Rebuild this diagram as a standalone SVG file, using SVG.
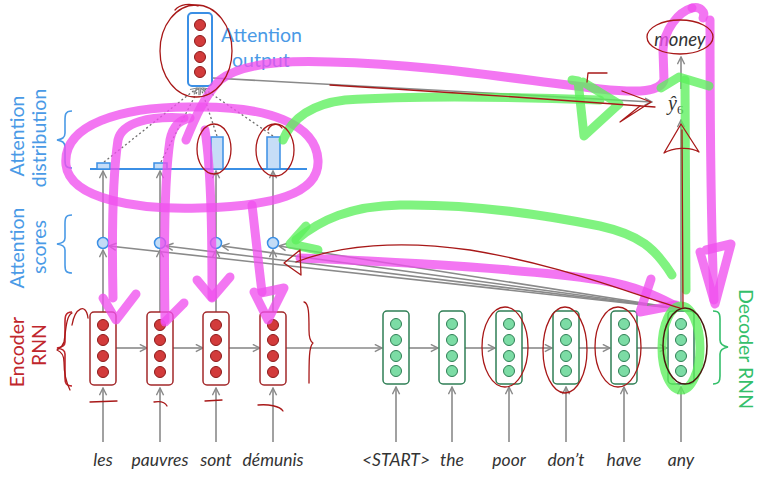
<svg xmlns="http://www.w3.org/2000/svg" width="765" height="484" viewBox="0 0 765 484">
<style>
.bg{fill:#ffffff}
.encbox{fill:#fff;stroke:#a3282a;stroke-width:1.5}
.enc{fill:#d23b3b;stroke:#8c1a1a;stroke-width:1}
.decbox{fill:#fff;stroke:#2f7f55;stroke-width:1.5}
.dec{fill:#7cdca5;stroke:#2f7f55;stroke-width:1}
.outbox{fill:#fff;stroke:#3b8fe5;stroke-width:2}
.score{fill:#c3dcf6;stroke:#3b8fe5;stroke-width:1.5}
.bar{fill:#c6ddf7;stroke:#3b8fe5;stroke-width:1.5}
.conn{fill:none;stroke:#8a8a8a;stroke-width:1.6;marker-end:url(#ah)}
.dot{fill:none;stroke:#6f6f6f;stroke-width:1.3;stroke-dasharray:2 2.5;marker-end:url(#ahs)}
.word{font-family:Lato,"Liberation Sans",sans-serif;font-style:italic;font-size:17.5px;fill:#333;text-anchor:middle}
.lblue{font-family:Lato,"Liberation Sans",sans-serif;font-size:19.5px;fill:#4a9ae6;text-anchor:middle}
.lred{font-family:Lato,"Liberation Sans",sans-serif;font-size:19.5px;fill:#c0262c;text-anchor:middle}
.lgreen{font-family:Lato,"Liberation Sans",sans-serif;font-size:19.5px;fill:#35bf6b;text-anchor:middle}
.brace{fill:none;stroke-width:1.6}
.mag{fill:none;stroke:#f050ee;stroke-opacity:0.78;stroke-width:9;stroke-linecap:round;stroke-linejoin:round}
.grn{fill:none;stroke:#5cf05c;stroke-opacity:0.78;stroke-width:9;stroke-linecap:round;stroke-linejoin:round}
.red{fill:none;stroke:#a81818;stroke-width:1.3;stroke-linecap:round;stroke-linejoin:round}
.dark{fill:none;stroke:#4a1a10;stroke-width:1.5}
</style>
<defs>
<marker id="ah" viewBox="0 0 10 10" refX="9" refY="5" markerWidth="9" markerHeight="9" orient="auto" markerUnits="userSpaceOnUse">
<path d="M1,1 L9,5 L1,9" fill="none" stroke="#8a8a8a" stroke-width="1.6"/>
</marker>
<marker id="ahs" viewBox="0 0 10 10" refX="9" refY="5" markerWidth="8" markerHeight="8" orient="auto" markerUnits="userSpaceOnUse">
<path d="M1,1 L9,5 L1,9" fill="none" stroke="#8a8a8a" stroke-width="1.5"/>
</marker>
</defs>
<rect class="bg" x="0" y="0" width="765" height="484"/>

<g id="labels">
<text class="lblue" transform="translate(24,136) rotate(-90)">Attention</text>
<text class="lblue" transform="translate(46,138) rotate(-90)">distribution</text>
<text class="lblue" transform="translate(24,248) rotate(-90)">Attention</text>
<text class="lblue" transform="translate(46,247) rotate(-90)">scores</text>
<text class="lred" transform="translate(24,352) rotate(-90)">Encoder</text>
<text class="lred" transform="translate(46,345) rotate(-90)">RNN</text>
<text class="lgreen" transform="translate(739,349) rotate(90)">Decoder RNN</text>
<path class="brace" stroke="#4a9ae6" d="M72,111 C64,111 65,116 65,125 L65,133 C65,138 62,139 57,140 C62,141 65,142 65,147 L65,160 C65,166 66,168 72,168"/>
<path class="brace" stroke="#4a9ae6" d="M72,215 C64,215 65,220 65,228 L65,238 C65,242 62,243 57,244 C62,245 65,246 65,250 L65,265 C65,271 66,273 72,273"/>
<path class="brace" stroke="#c0262c" d="M72,312 C64,312 65,318 65,328 L65,342 C65,346 62,347 57,348 C62,349 65,350 65,354 L65,378 C65,383 66,386 72,386"/>
<path class="brace" stroke="#35bf6b" d="M713,311 C721,311 720,316 720,324 L720,340 C720,344 723,346 728,347 C723,348 720,350 720,354 L720,376 C720,381 719,384 713,384"/>
</g>

<g id="connectors">
<line class="conn" x1="103" y1="442" x2="103" y2="388"/>
<line class="conn" x1="160" y1="442" x2="160" y2="388"/>
<line class="conn" x1="216" y1="442" x2="216" y2="388"/>
<line class="conn" x1="273" y1="442" x2="273" y2="388"/>
<line class="conn" x1="396" y1="442" x2="396" y2="387"/>
<line class="conn" x1="452" y1="442" x2="452" y2="387"/>
<line class="conn" x1="509" y1="442" x2="509" y2="387"/>
<line class="conn" x1="566" y1="442" x2="566" y2="387"/>
<line class="conn" x1="624" y1="442" x2="624" y2="387"/>
<line class="conn" x1="681" y1="442" x2="681" y2="387"/>
<line class="conn" x1="116" y1="348" x2="147" y2="348"/>
<line class="conn" x1="173" y1="348" x2="203" y2="348"/>
<line class="conn" x1="229" y1="348" x2="260" y2="348"/>
<line class="conn" x1="286" y1="348" x2="382" y2="348"/>
<line class="conn" x1="409" y1="348" x2="438" y2="348"/>
<line class="conn" x1="465" y1="348" x2="495" y2="348"/>
<line class="conn" x1="522" y1="348" x2="552" y2="348"/>
<line class="conn" x1="579" y1="348" x2="610" y2="348"/>
<line class="conn" x1="637" y1="348" x2="667" y2="348"/>
<line class="conn" x1="103" y1="312" x2="103" y2="250"/>
<line class="conn" x1="160" y1="312" x2="160" y2="250"/>
<line class="conn" x1="216" y1="312" x2="216" y2="250"/>
<line class="conn" x1="273" y1="312" x2="273" y2="250"/>
<line class="conn" x1="103" y1="238" x2="103" y2="171"/>
<line class="conn" x1="160" y1="238" x2="160" y2="171"/>
<line class="conn" x1="216" y1="238" x2="216" y2="171"/>
<line class="conn" x1="273" y1="238" x2="273" y2="171"/>
<line class="conn" x1="681" y1="309" x2="109" y2="246"/>
<line class="conn" x1="681" y1="309" x2="166" y2="246"/>
<line class="conn" x1="681" y1="309" x2="222" y2="246"/>
<line class="conn" x1="681" y1="309" x2="279" y2="246"/>
<line class="dot" x1="104" y1="162" x2="197" y2="88"/>
<line class="dot" x1="161" y1="162" x2="199" y2="88"/>
<line class="dot" x1="217" y1="136" x2="201" y2="88"/>
<line class="dot" x1="273" y1="136" x2="203" y2="88"/>
<line class="conn" x1="213" y1="78" x2="652" y2="102"/>
<line class="conn" x1="681" y1="309" x2="681" y2="120"/>
<line class="conn" x1="681" y1="89" x2="681" y2="57"/>
</g>

<g id="attention-distribution">
<line x1="90" y1="169" x2="307" y2="169" stroke="#3b8fe5" stroke-width="2"/>
<rect class="bar" x="97" y="163" width="13" height="6"/>
<rect class="bar" x="154" y="163" width="13" height="6"/>
<rect class="bar" x="211" y="137" width="12" height="32"/>
<rect class="bar" x="267" y="137" width="13" height="32"/>
</g>

<g id="attention-scores">
<circle class="score" cx="103" cy="243" r="5.5"/>
<circle class="score" cx="160" cy="243" r="5.5"/>
<circle class="score" cx="216" cy="243" r="5.5"/>
<circle class="score" cx="273" cy="243" r="5.5"/>
</g>

<g id="attention-output">
<rect class="outbox" x="188" y="13" width="24" height="73" rx="4"/>
<circle class="enc" cx="200" cy="25" r="5.5"/>
<circle class="enc" cx="200" cy="41" r="5.5"/>
<circle class="enc" cx="200" cy="57" r="5.5"/>
<circle class="enc" cx="200" cy="72" r="5.5"/>
<text class="lblue" style="text-anchor:start" x="221" y="42">Attention</text>
<text class="lblue" style="text-anchor:start" x="232" y="67">output</text>
</g>

<g id="enc-les">
<rect class="encbox" x="90" y="312" width="26" height="73" rx="4"/>
<circle class="enc" cx="103" cy="325" r="5.5"/><circle class="enc" cx="103" cy="340" r="5.5"/><circle class="enc" cx="103" cy="356" r="5.5"/><circle class="enc" cx="103" cy="372" r="5.5"/>
<text class="word" x="103" y="466">les</text>
</g>
<g id="enc-pauvres">
<rect class="encbox" x="147" y="312" width="26" height="73" rx="4"/>
<circle class="enc" cx="160" cy="325" r="5.5"/><circle class="enc" cx="160" cy="340" r="5.5"/><circle class="enc" cx="160" cy="356" r="5.5"/><circle class="enc" cx="160" cy="372" r="5.5"/>
<text class="word" x="160" y="466">pauvres</text>
</g>
<g id="enc-sont">
<rect class="encbox" x="203" y="312" width="26" height="73" rx="4"/>
<circle class="enc" cx="216" cy="325" r="5.5"/><circle class="enc" cx="216" cy="340" r="5.5"/><circle class="enc" cx="216" cy="356" r="5.5"/><circle class="enc" cx="216" cy="372" r="5.5"/>
<text class="word" x="216" y="466">sont</text>
</g>
<g id="enc-demunis">
<rect class="encbox" x="260" y="312" width="26" height="73" rx="4"/>
<circle class="enc" cx="273" cy="325" r="5.5"/><circle class="enc" cx="273" cy="340" r="5.5"/><circle class="enc" cx="273" cy="356" r="5.5"/><circle class="enc" cx="273" cy="372" r="5.5"/>
<text class="word" x="273" y="466">démunis</text>
</g>

<g id="dec-start">
<rect class="decbox" x="383" y="311" width="26" height="73" rx="4"/>
<circle class="dec" cx="396" cy="324" r="5.5"/><circle class="dec" cx="396" cy="340" r="5.5"/><circle class="dec" cx="396" cy="356" r="5.5"/><circle class="dec" cx="396" cy="371" r="5.5"/>
<text class="word" x="396" y="466">&lt;START&gt;</text>
</g>
<g id="dec-the">
<rect class="decbox" x="439" y="311" width="26" height="73" rx="4"/>
<circle class="dec" cx="452" cy="324" r="5.5"/><circle class="dec" cx="452" cy="340" r="5.5"/><circle class="dec" cx="452" cy="356" r="5.5"/><circle class="dec" cx="452" cy="371" r="5.5"/>
<text class="word" x="452" y="466">the</text>
</g>
<g id="dec-poor">
<rect class="decbox" x="496" y="311" width="26" height="73" rx="4"/>
<circle class="dec" cx="509" cy="324" r="5.5"/><circle class="dec" cx="509" cy="340" r="5.5"/><circle class="dec" cx="509" cy="356" r="5.5"/><circle class="dec" cx="509" cy="371" r="5.5"/>
<text class="word" x="509" y="466">poor</text>
</g>
<g id="dec-dont">
<rect class="decbox" x="553" y="311" width="26" height="73" rx="4"/>
<circle class="dec" cx="566" cy="324" r="5.5"/><circle class="dec" cx="566" cy="340" r="5.5"/><circle class="dec" cx="566" cy="356" r="5.5"/><circle class="dec" cx="566" cy="371" r="5.5"/>
<text class="word" x="566" y="466">don’t</text>
</g>
<g id="dec-have">
<rect class="decbox" x="611" y="311" width="26" height="73" rx="4"/>
<circle class="dec" cx="624" cy="324" r="5.5"/><circle class="dec" cx="624" cy="340" r="5.5"/><circle class="dec" cx="624" cy="356" r="5.5"/><circle class="dec" cx="624" cy="371" r="5.5"/>
<text class="word" x="624" y="466">have</text>
</g>
<g id="dec-any">
<rect class="decbox" x="668" y="311" width="26" height="73" rx="4"/>
<circle class="dec" cx="681" cy="324" r="5.5"/><circle class="dec" cx="681" cy="340" r="5.5"/><circle class="dec" cx="681" cy="356" r="5.5"/><circle class="dec" cx="681" cy="371" r="5.5"/>
<text class="word" x="681" y="466">any</text>
</g>

<g id="yhat">
<text x="668" y="110" font-family="'Liberation Serif',serif" font-style="italic" font-size="20" fill="#333">ŷ<tspan font-style="normal" font-size="13" dy="4">6</tspan></text>
</g>
<g id="money">
<text class="word" x="680" y="46" style="font-size:18.5px">money</text>
</g>

<g id="annotations-magenta">
<path class="mag" d="M195,107 C120,106 62,125 66,165 C70,200 140,210 200,208 C270,206 320,195 318,160 C316,124 268,106 195,107"/>
<path class="mag" d="M186,140 C195,118 205,95 220,80 C240,64 280,60 330,62 C430,64 520,80 600,89 C640,93 660,92 664,80 L663,50 C664,30 678,12 692,8"/>
<path class="mag" d="M692,8 C700,6 706,12 703,18"/>
<path class="mag" d="M710,20 C710,100 710,200 714,300"/>
<path class="mag" d="M700,252 L715,304 L731,244 L706,250"/>
<path class="mag" d="M300,258 C400,262 520,268 600,280 C640,287 660,298 676,306"/>
<path class="mag" d="M651,279 L640,312 L676,305"/>
<path class="mag" d="M113,298 C112,250 112,180 118,140 C122,122 150,116 184,118"/>
<path class="mag" d="M103,298 L116,320 L136,294"/>
<path class="mag" d="M165,320 C164,260 164,180 170,140 C173,125 180,120 190,118"/>
<path class="mag" d="M165,322 L184,303"/>
<path class="mag" d="M212,297 C212,250 212,175 205,130"/>
<path class="mag" d="M197,280 L212,298 L230,277"/>
<path class="mag" d="M262,292 C258,260 255,230 252,205"/>
<path class="mag" d="M254,292 L268,320 L284,288 L256,294"/>
</g>
<g id="annotations-green">
<path class="grn" d="M283,140 C292,118 312,104 345,100 C420,95 520,97 600,100"/>
<path class="grn" d="M572,80 L578,81 L584,136 L619,104 L583,82"/>
<path class="grn" d="M661,88 L679,77 L709,86"/>
<path class="grn" d="M685,80 C685,150 686,220 686,290"/>
<path class="grn" d="M672,275 C655,248 640,235 600,226 C530,212 460,204 400,205 C350,206 320,220 296,240"/>
<path class="grn" d="M306,226 L290,244 L318,250"/>
<ellipse class="grn" cx="681" cy="348" rx="19" ry="42" stroke-width="7"/>
</g>
<g id="annotations-red">
<ellipse class="red" cx="196" cy="51" rx="36" ry="46"/>
<path class="red" d="M175,10 C180,4 190,3 198,6"/>
<ellipse class="red" cx="214" cy="149" rx="17" ry="25"/>
<ellipse class="red" cx="275" cy="150" rx="19" ry="26"/>
<path class="red" d="M268,130 C270,124 278,122 282,128"/>
<ellipse class="red" cx="680" cy="37" rx="33" ry="17"/>
<ellipse class="red" cx="505" cy="347" rx="23" ry="40"/>
<ellipse class="red" cx="565" cy="350" rx="22" ry="43"/>
<ellipse class="red" cx="618" cy="347" rx="23" ry="40"/>
<ellipse class="dark" cx="685" cy="346" rx="22" ry="38"/>
<path class="red" d="M683,308 L682,130"/>
<path class="red" d="M664,153 L681,124 L699,152 C690,146 672,148 664,153"/>
<path class="red" d="M330,85 C450,92 560,100 655,107"/>
<path class="red" d="M622,91 L651,102 L620,122 L640,106"/>
<path class="red" d="M587,82 L588,73 L607,73"/>
<path class="red" d="M680,308 C620,290 560,265 470,250 C400,240 340,245 296,262"/>
<path class="red" d="M284,263 L300,250 L301,275 Z"/>
<path class="red" d="M72,313 C66,316 66,330 64,342 C62,348 58,349 57,350 C62,352 64,356 64,362 C64,375 66,382 70,390"/>
<path class="red" d="M72,325 C75,308 86,302 88,318"/>
<path class="red" d="M304,302 C309,303 309,315 309,330 C309,338 311,342 313,343 C309,346 309,360 309,383"/>
<path class="red" d="M90,402 L117,401"/>
<path class="red" d="M154,402 C160,401 165,402 167,406"/>
<path class="red" d="M205,401 L222,400"/>
<path class="red" d="M258,405 C268,404 280,406 283,411"/>
</g>
</svg>
